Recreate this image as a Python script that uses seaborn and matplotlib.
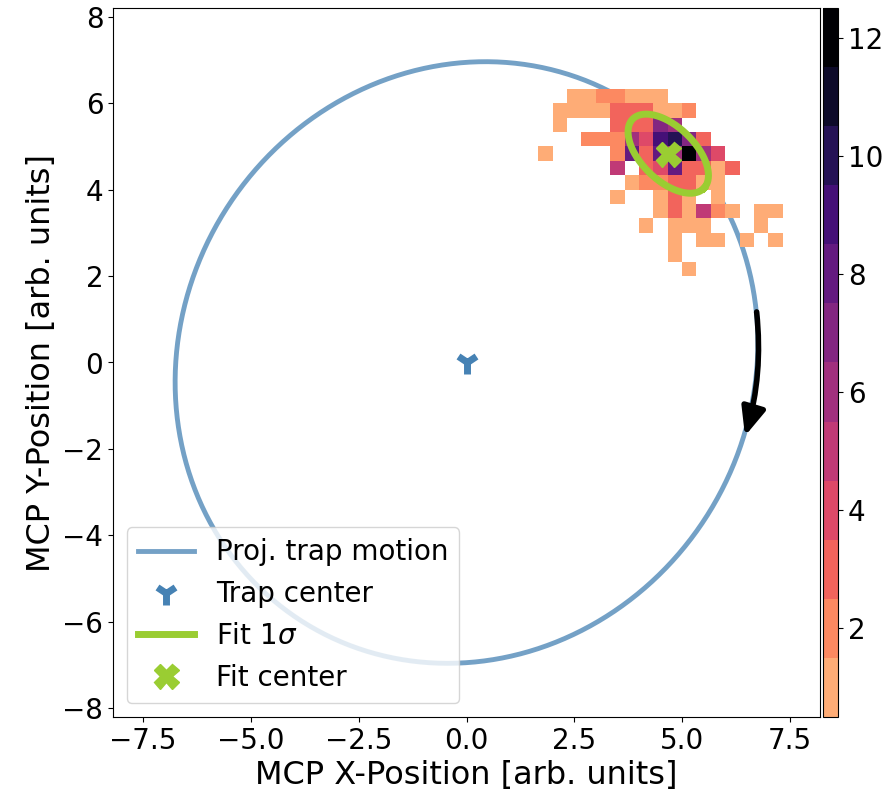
import numpy as np
import seaborn as sns
import matplotlib.pyplot as plt
from matplotlib.colors import ListedColormap

# MCP hits, binned on a 1/3 grid: column / row index of each filled cell and its count
cell_ix = [7, 8, 9, 10, 11, 12, 13,
           6, 7, 8, 9, 10, 11, 12, 13, 14, 15,
           6, 10, 11, 12, 13, 14,
           8, 9, 10, 11, 12, 13, 14, 15, 16,
           5, 10, 11, 12, 13, 14, 15, 16, 17,
           10, 12, 13, 14, 15, 16, 17, 18,
           11, 12, 13, 14, 15, 16, 17,
           10, 13, 14, 15, 17,
           13, 14, 15, 16, 17, 18, 20, 21,
           12, 14, 15, 16, 20,
           14, 16, 17, 19, 21,
           14,
           15]
cell_iy = [18] * 7 + [17] * 10 + [16] * 6 + [15] * 9 + [14] * 9 + [13] * 8 \
    + [12] * 7 + [11] * 5 + [10] * 8 + [9] * 5 + [8] * 5 + [7] + [6]
cell_n = [1, 1, 2, 2, 1, 1, 1,
          1, 1, 1, 1, 3, 3, 3, 1, 1, 2,
          1, 3, 3, 3, 7, 6,
          2, 2, 2, 6, 4, 9, 10, 7, 3,
          1, 2, 8, 3, 8, 6, 12, 6, 4,
          5, 3, 4, 8, 3, 3, 1, 3,
          1, 2, 2, 3, 3, 1, 1,
          1, 1, 3, 1, 1,
          1, 3, 1, 5, 2, 1, 1, 1,
          1, 1, 1, 1, 1,
          1, 1, 1, 1, 1,
          1,
          1]
bin_width = 1 / 3

# projected trap motion (ellipse: center, semi axes, tilt in deg)
trap_center = (0.0, 0.0)
trap_axes = (7.10, 6.61)
trap_tilt = 57

# 2D gaussian fit of the spot
fit_center = (4.68, 4.83)
fit_axes = (1.15, 0.62)
fit_tilt = -44

# direction of motion arrow (start, end)
arrow_start = (6.73, 1.17)
arrow_end = (6.46, -1.70)


def ellipse_xy(center, axes, tilt, n=400):
    t = np.linspace(0, 2 * np.pi, n)
    phi = np.deg2rad(tilt)
    a, b = axes
    x = center[0] + a * np.cos(phi) * np.cos(t) - b * np.sin(phi) * np.sin(t)
    y = center[1] + a * np.sin(phi) * np.cos(t) + b * np.cos(phi) * np.sin(t)
    return x, y


plt.rcParams['font.size'] = 20

fig = plt.figure(figsize=(8.96, 8.05), dpi=100)
ax = fig.add_axes([113 / 896, 88 / 805, 707 / 896, 709 / 805])
cax = fig.add_axes([823 / 896, 88 / 805, 15 / 896, 709 / 805])

# trap motion goes underneath the histogram
tx, ty = ellipse_xy(trap_center, trap_axes, trap_tilt)
ax.plot(tx, ty, color="steelblue", alpha=0.75, lw=3.5, zorder=0.5,
        label="Proj. trap motion")

hx = (np.array(cell_ix) + 0.5) * bin_width
hy = (np.array(cell_iy) + 0.5) * bin_width
magma = sns.color_palette("magma", as_cmap=True)
cmap = ListedColormap(magma(np.linspace(0.825, 0.0, 12)))

sns.histplot(x=hx, y=hy, weights=cell_n, binwidth=bin_width, binrange=(-8, 8),
             cmap=cmap, vmin=0.5, vmax=12.5, cbar=True, cbar_ax=cax, ax=ax)

ax.plot(*trap_center, marker="1", ls="none", color="steelblue", ms=17, mew=5,
        label="Trap center")
fx, fy = ellipse_xy(fit_center, fit_axes, fit_tilt)
ax.plot(fx, fy, color="yellowgreen", lw=5, label=r"Fit 1$\sigma$")
ax.plot(*fit_center, marker="X", ls="none", color="yellowgreen", ms=18,
        label="Fit center")

ax.annotate("", xy=arrow_end, xytext=arrow_start,
            arrowprops=dict(arrowstyle="-|>,head_length=0.7,head_width=0.3",
                            color="black", lw=4, mutation_scale=24,
                            shrinkA=0, shrinkB=0,
                            connectionstyle="arc3,rad=-0.1"))

ax.set_xlim(-8.2, 8.2)
ax.set_ylim(-8.2, 8.2)
ax.set_xticks(np.arange(-7.5, 7.6, 2.5))
ax.set_yticks(np.arange(-8, 8.1, 2))
ax.set_xlabel("MCP X-Position [arb. units]", fontsize=23)
ax.set_ylabel("MCP Y-Position [arb. units]", fontsize=23)
ax.legend(loc="lower left")

fig.savefig("out.png", dpi=100)
